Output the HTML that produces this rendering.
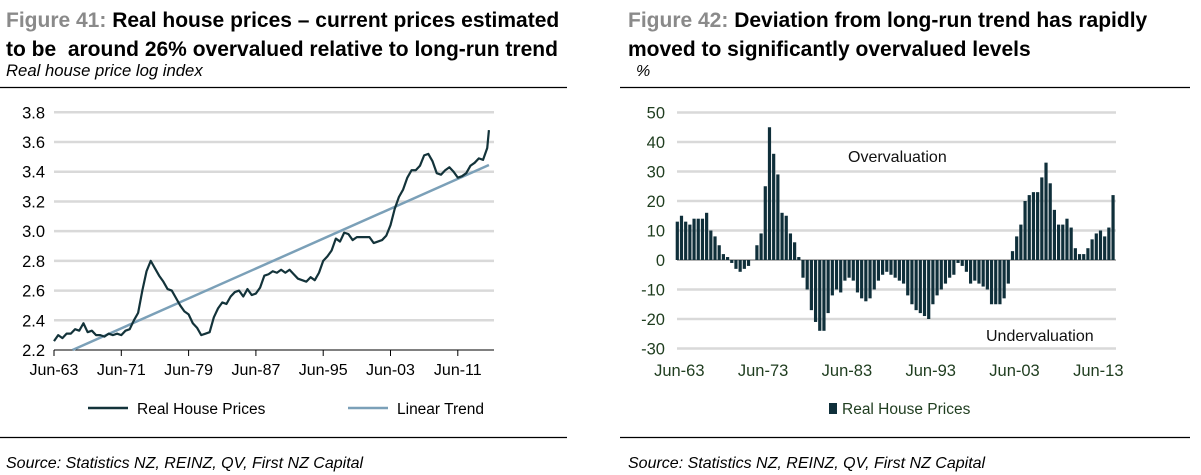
<!DOCTYPE html>
<html><head><meta charset="utf-8"><style>
body{margin:0;background:#fff;width:1201px;height:475px;overflow:hidden;font-family:"Liberation Sans",Arial,sans-serif}
svg{position:absolute;left:0;top:0}
</style></head><body>
<svg width="1201" height="475" xmlns="http://www.w3.org/2000/svg" font-family="Liberation Sans, Arial, sans-serif">
<g id="left">
<text x="6" y="27" font-size="21" font-weight="bold"><tspan fill="#8a8a8a">Figure 41:</tspan><tspan fill="#000"> Real house prices – current prices estimated</tspan></text>
<text x="6" y="56" font-size="21" font-weight="bold" fill="#000" xml:space="preserve">to be  around 26% overvalued relative to long-run trend</text>
<text x="6" y="76" font-size="16.7" font-style="italic">Real house price log index</text>
<line x1="0" y1="87.5" x2="567" y2="87.5" stroke="#000" stroke-width="1.2"/>
<g id="lgrid"></g><g id="lplot"></g>
<line x1="88" y1="408" x2="128" y2="408" stroke="#13333a" stroke-width="2.5"/>
<text x="137" y="414" font-size="15.5">Real House Prices</text>
<line x1="348" y1="408" x2="388" y2="408" stroke="#7ba0b8" stroke-width="2.5"/>
<text x="397" y="414" font-size="15.5">Linear Trend</text>
<line x1="0" y1="437.5" x2="567" y2="437.5" stroke="#000" stroke-width="1.2"/>
<text x="6" y="468" font-size="16" font-style="italic">Source: Statistics NZ, REINZ, QV,  First NZ Capital</text>
</g>
<g id="right">
<text x="628" y="27" font-size="21" font-weight="bold"><tspan fill="#8a8a8a">Figure 42:</tspan><tspan fill="#000"> Deviation from long-run trend has rapidly</tspan></text>
<text x="628" y="56" font-size="21" font-weight="bold" fill="#000">moved to significantly overvalued levels</text>
<text x="636" y="76" font-size="16" font-style="italic">%</text>
<line x1="620" y1="87.5" x2="1190" y2="87.5" stroke="#000" stroke-width="1.2"/>
<g id="rgrid"></g><g id="rplot"></g>
<text x="848" y="162" font-size="16" fill="#111">Overvaluation</text>
<text x="986" y="341" font-size="16" fill="#111">Undervaluation</text>
<rect x="829" y="403" width="8" height="11" fill="#0f2f3a"/>
<text x="842" y="414" font-size="15.5" fill="#1f3d1f">Real House Prices</text>
<line x1="620" y1="437.5" x2="1190" y2="437.5" stroke="#000" stroke-width="1.2"/>
<text x="628" y="468" font-size="16" font-style="italic">Source: Statistics NZ, REINZ, QV, First NZ Capital</text>
</g>
</svg>
<script>
const NS='http://www.w3.org/2000/svg';
// left chart data
const lTicksY=[2.2,2.4,2.6,2.8,3.0,3.2,3.4,3.6,3.8];
const lTickLabelsY=['2.2','2.4','2.6','2.8','3.0','3.2','3.4','3.6','3.8'];
const lTicksX=[1963.5,1971.5,1979.5,1987.5,1995.5,2003.5,2011.5];
const lTickLabelsX=['Jun-63','Jun-71','Jun-79','Jun-87','Jun-95','Jun-03','Jun-11'];
const priceYears=[1963.5,1964,1964.5,1965,1965.5,1966,1966.5,1967,1967.5,1968,1968.5,1969,1969.5,1970,1970.5,1971,1971.5,1972,1972.5,1973,1973.5,1974,1974.5,1975,1975.5,1976,1976.5,1977,1977.5,1978,1978.5,1979,1979.5,1980,1980.5,1981,1981.5,1982,1982.5,1983,1983.5,1984,1984.5,1985,1985.5,1986,1986.5,1987,1987.5,1988,1988.5,1989,1989.5,1990,1990.5,1991,1991.5,1992,1992.5,1993,1993.5,1994,1994.5,1995,1995.5,1996,1996.5,1997,1997.5,1998,1998.5,1999,1999.5,2000,2000.5,2001,2001.5,2002,2002.5,2003,2003.5,2004,2004.5,2005,2005.5,2006,2006.5,2007,2007.5,2008,2008.5,2009,2009.5,2010,2010.5,2011,2011.5,2012,2012.5,2013,2013.5,2014,2014.5,2015,2015.2];
const priceValues=[2.26,2.30,2.28,2.31,2.31,2.34,2.33,2.38,2.32,2.33,2.30,2.30,2.29,2.31,2.30,2.31,2.30,2.33,2.34,2.40,2.45,2.60,2.73,2.80,2.75,2.70,2.66,2.61,2.60,2.55,2.50,2.46,2.44,2.38,2.35,2.30,2.31,2.32,2.42,2.48,2.52,2.51,2.56,2.59,2.60,2.56,2.61,2.57,2.58,2.62,2.70,2.71,2.73,2.72,2.74,2.72,2.74,2.71,2.68,2.67,2.66,2.69,2.67,2.72,2.80,2.83,2.87,2.95,2.93,2.99,2.98,2.94,2.96,2.96,2.96,2.96,2.92,2.93,2.94,2.97,3.04,3.15,3.23,3.28,3.36,3.41,3.41,3.44,3.51,3.52,3.47,3.39,3.38,3.41,3.43,3.40,3.36,3.37,3.39,3.44,3.46,3.49,3.48,3.56,3.68];
const trendYears=[1965.7,2015.2];
const trendValues=[2.2,3.445];
const lx=y=>54+(y-1963.5)*(67.3/8);
const ly=v=>350-(v-2.2)*(237.7/1.6);
function el(tag,attrs,parent){const e=document.createElementNS(NS,tag);for(const k in attrs)e.setAttribute(k,attrs[k]);parent.appendChild(e);return e;}
const lg=document.getElementById('lgrid'), lp=document.getElementById('lplot');
lTicksY.forEach((t,i)=>{
  if(i>0){const g=el('line',{x1:54,x2:494,y1:ly(t),y2:ly(t),stroke:'#d9d9d9','stroke-width':2.5},lg);
  
  }
  const tx=el('text',{x:45,y:ly(t)+6,'font-size':16.5,'text-anchor':'end'},lg);tx.textContent=lTickLabelsY[i];
  
  
});
const ax=el('line',{x1:54,x2:494,y1:350,y2:350,stroke:'#000','stroke-width':1},lg);


lTicksX.forEach((t,i)=>{
  const tk=el('line',{x1:lx(t),x2:lx(t),y1:350,y2:356,stroke:'#000'},lg);
  
  
  const tx=el('text',{x:lx(t),y:375,'font-size':16,'text-anchor':'middle'},lg);tx.textContent=lTickLabelsX[i];
  
  
});
const tl=el('polyline',{points:trendYears.map((y,i)=>lx(y)+','+ly(trendValues[i])).join(' '),fill:'none',stroke:'#7ba0b8','stroke-width':2.5},lp);


const pl=el('polyline',{points:priceYears.map((y,i)=>lx(y)+','+ly(priceValues[i])).join(' '),fill:'none',stroke:'#13333a','stroke-width':2.2,'stroke-linejoin':'round'},lp);



// right chart data
const rTicksY=[-30,-20,-10,0,10,20,30,40,50];
const rTickLabelsY=['-30','-20','-10','0','10','20','30','40','50'];
const rTicksX=[1963.5,1973.5,1983.5,1993.5,2003.5,2013.5];
const rTickLabelsX=['Jun-63','Jun-73','Jun-83','Jun-93','Jun-03','Jun-13'];
const devStart=1963.5, devStep=0.5;
const devValues=[13,15,13,12,14,14,14,16,10,8,5,2,1,-1,-3,-4,-3,-2,0,5,9,25,45,36,29,16,15,9,6,1,-6,-10,-17,-21,-24,-24,-18,-12,-10,-11,-7,-6,-7,-11,-13,-14,-13,-10,-7,-5,-4,-5,-6,-7,-8,-12,-15,-17,-18,-19,-20,-15,-12,-10,-8,-6,-5,-1,-2,-4,-8,-7,-8,-9,-10,-15,-15,-15,-13,-8,3,8,12,20,22,23,23,28,33,26,17,12,12,14,11,4,2,2,4,7,9,10,8,11,22];
const rx=y=>677.3+(y-1963.5)*8.38;
const ry=v=>260-v*2.95;
const rg=document.getElementById('rgrid'), rp=document.getElementById('rplot');
rTicksY.forEach((t,i)=>{
  if(t!==0){const g=el('line',{x1:677,x2:1116,y1:ry(t),y2:ry(t),stroke:'#d9d9d9','stroke-width':2.5},rg);
  
  }
  const tx=el('text',{x:665,y:ry(t)+6,'font-size':16.5,'text-anchor':'end',fill:'#1f3d1f'},rg);tx.textContent=rTickLabelsY[i];
  
  
});
rTicksX.forEach((t,i)=>{
  const tx=el('text',{x:rx(t)+2,y:376,'font-size':16.5,'text-anchor':'middle',fill:'#1f3d1f'},rg);tx.textContent=rTickLabelsX[i];
  
  
});
devValues.forEach((v,i)=>{
  const x=rx(devStart+i*devStep);
  const b=el('rect',{x:x-1.6,width:3.2,y:Math.min(ry(v),ry(0)),height:Math.abs(ry(v)-ry(0)),fill:'#0f2f3a'},rp);
  
  
});
const z=el('line',{x1:677,x2:1116,y1:260,y2:260,stroke:'#999','stroke-width':1.5},rg);


</script>
</body></html>
